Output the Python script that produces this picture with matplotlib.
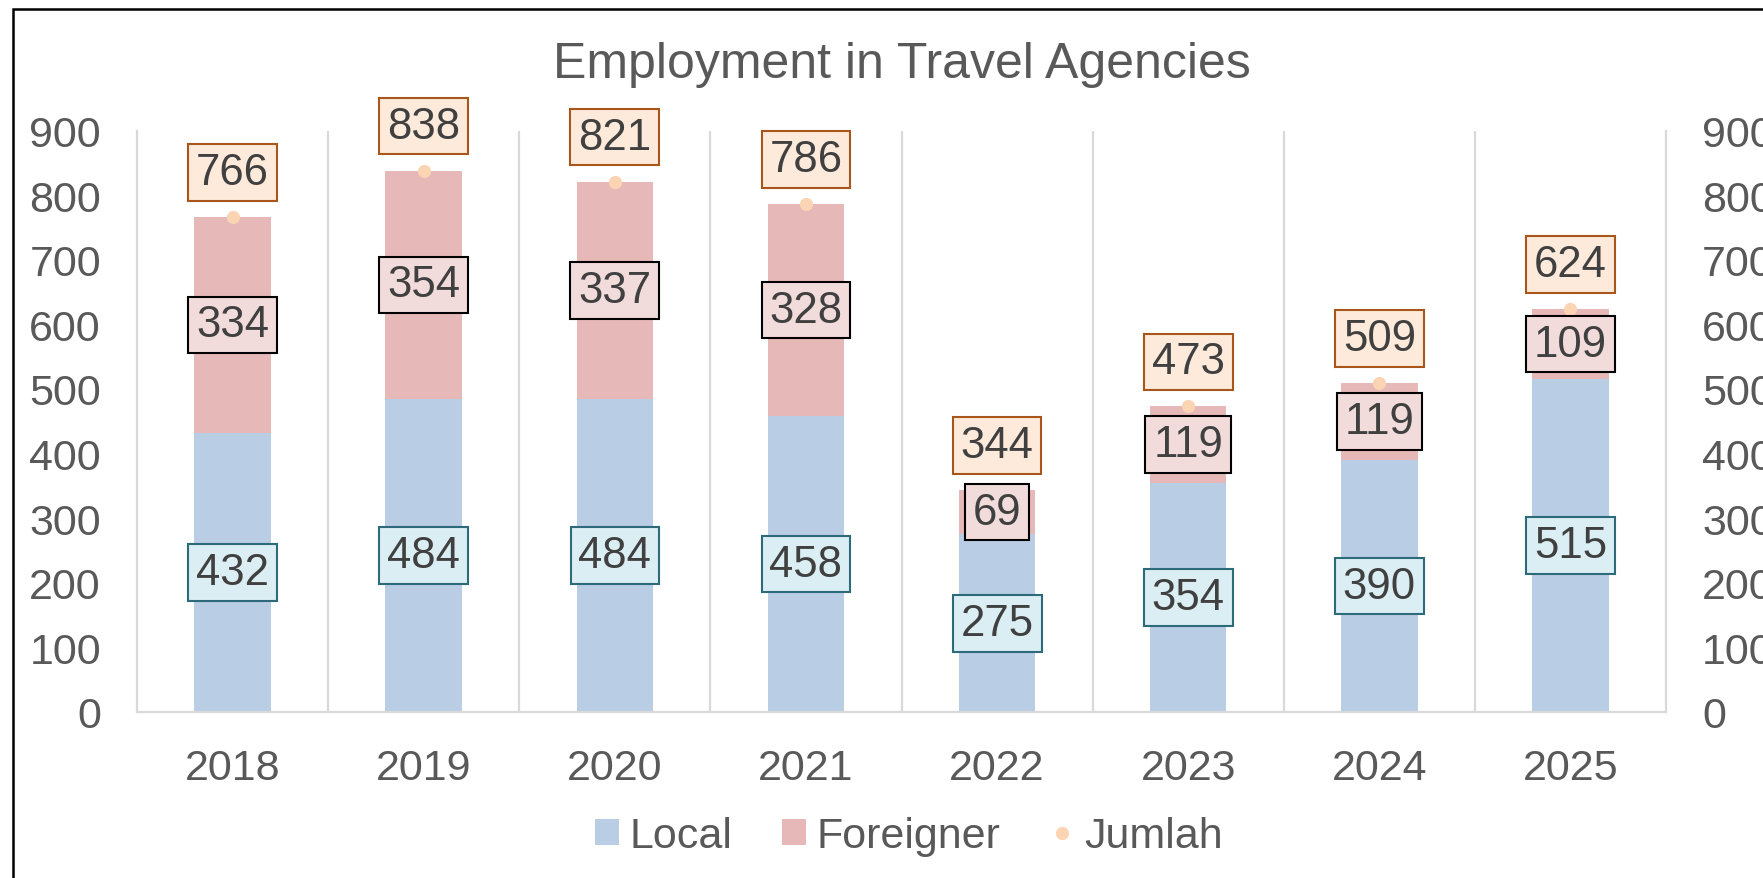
import matplotlib
matplotlib.use("Agg")
import matplotlib.pyplot as plt
from matplotlib.patches import Rectangle, Patch
from matplotlib.lines import Line2D

plt.rcParams['font.family'] = ['Liberation Sans', 'DejaVu Sans']

years = ['2018', '2019', '2020', '2021', '2022', '2023', '2024', '2025']
local = [432, 484, 484, 458, 275, 354, 390, 515]
foreigner = [334, 354, 337, 328, 69, 119, 119, 109]
jumlah = [766, 838, 821, 786, 344, 473, 509, 624]
yticks = [0, 100, 200, 300, 400, 500, 600, 700, 800, 900]

C_LOCAL = '#B9CDE5'
C_FOR = '#E6B9B8'
C_JUM = '#FBD4B4'
TXT = '#595959'
LBL = '#404040'

W, H = 1763, 879
fig = plt.figure(figsize=(W / 100, H / 100), dpi=100)
ax = fig.add_axes([137 / W, 1 - 713 / H, (1666 - 137) / W, (713 - 131.5) / H])

x = list(range(len(years)))
ax.bar(x, local, width=0.40, color=C_LOCAL, zorder=2, label='Local')
ax.bar(x, foreigner, width=0.40, bottom=local, color=C_FOR, zorder=2, label='Foreigner')
ax.plot(x, jumlah, linestyle='none', marker='o', markersize=9.5, color=C_JUM,
        markeredgewidth=0, zorder=3, label='Jumlah')

ax.set_xlim(-0.5, len(years) - 0.5)
ax.set_ylim(0, 900)
ax.set_yticks(yticks)
ax.set_xticks(x)
ax.set_xticklabels(years)
ax.set_xticks([i + 0.5 for i in x[:-1]], minor=True)
ax.grid(True, which='minor', axis='x', color='#D9D9D9', linewidth=1.6, zorder=1)
ax.tick_params(axis='x', which='both', length=0, pad=26, labelsize=31, colors=TXT)
ax.tick_params(axis='y', length=0, pad=26, labelsize=31, colors=TXT)
for s in ['left', 'right', 'bottom']:
    ax.spines[s].set_color('#D9D9D9')
    ax.spines[s].set_linewidth(1.6)
ax.spines['top'].set_visible(False)

ax2 = ax.twinx()
ax2.set_ylim(0, 900)
ax2.set_yticks(yticks)
ax2.tick_params(axis='y', length=0, pad=26, labelsize=31, colors=TXT)
for s in ax2.spines.values():
    s.set_visible(False)

fs = 31.5
for i in x:
    ax.text(i, local[i] / 2, str(local[i]), ha='center', va='center', fontsize=fs,
            color=LBL, zorder=5,
            bbox=dict(boxstyle='square,pad=0.18', facecolor='#DAEEF3', edgecolor='#2E6B7A', linewidth=1.5))
    ax.text(i, local[i] + foreigner[i] / 2, str(foreigner[i]), ha='center', va='center', fontsize=fs,
            color=LBL, zorder=5,
            bbox=dict(boxstyle='square,pad=0.18', facecolor='#F2DCDB', edgecolor='black', linewidth=1.5))
    ax.annotate(str(jumlah[i]), (i, jumlah[i]), xytext=(0, 32), textcoords='offset points',
                ha='center', va='center', fontsize=fs, color=LBL, zorder=6,
                bbox=dict(boxstyle='square,pad=0.18', facecolor='#FDEADA', edgecolor='#A8561C', linewidth=1.5))

fig.text(902 / W, 1 - 78.5 / H, 'Employment in Travel Agencies', ha='center', va='baseline',
         fontsize=36, color=TXT)

handles = [Patch(facecolor=C_LOCAL, label='Local'),
           Patch(facecolor=C_FOR, label='Foreigner'),
           Line2D([], [], linestyle='none', marker='o', markersize=9.5, color=C_JUM,
                  markeredgewidth=0, label='Jumlah')]
fig.legend(handles=handles, loc='center', bbox_to_anchor=(909 / W, 1 - 837 / H), ncol=3,
           frameon=False, fontsize=31, labelcolor=TXT, handlelength=0.55, handleheight=0.55,
           handletextpad=0.25, columnspacing=1.15)

fig.patches.append(Rectangle((12.5 / W, -0.1), 1.5, 1 - 10 / H + 0.1, transform=fig.transFigure,
                             fill=False, edgecolor='black', linewidth=1.8, zorder=10))

fig.savefig('out.png', dpi=100)
